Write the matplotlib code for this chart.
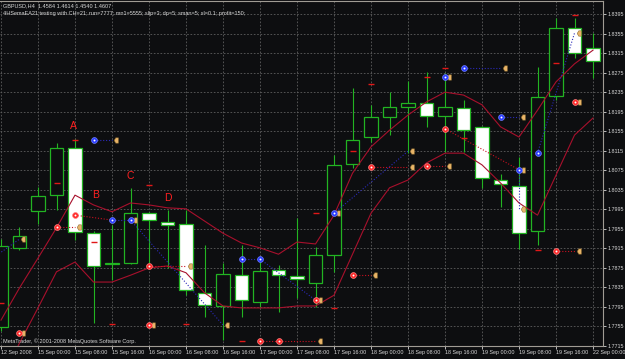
import numpy as np
import matplotlib
matplotlib.use("Agg")
import matplotlib.pyplot as plt
from matplotlib.patches import Rectangle
from matplotlib.path import Path

# GBPUSD H4 bars, 12 Sep 2008 16:00 .. 22 Sep 00:00
opens = [1.7754, 1.7916, 1.7992, 1.8024, 1.8121, 1.7946, 1.7883, 1.7885, 1.7987, 1.7969,
         1.7965, 1.7824, 1.7797, 1.7860, 1.7805, 1.7871, 1.7858, 1.7844, 1.7901, 1.8088,
         1.8143, 1.8184, 1.8205, 1.8213, 1.8186, 1.8202, 1.8164, 1.8055, 1.8043, 1.7951,
         1.8227, 1.8366, 1.8325]
highs = [1.7935, 1.7959, 1.8041, 1.8131, 1.8139, 1.7950, 1.7963, 1.8039, 1.7990, 1.7994,
         1.7994, 1.7922, 1.7885, 1.7922, 1.7887, 1.7880, 1.7977, 1.7918, 1.8106, 1.8243,
         1.8209, 1.8235, 1.8258, 1.8276, 1.8275, 1.8219, 1.8166, 1.8067, 1.8102, 1.8286,
         1.8387, 1.8387, 1.8356]
lows = [1.7745, 1.7912, 1.7965, 1.7994, 1.7932, 1.7762, 1.7850, 1.7883, 1.7885, 1.7875,
        1.7820, 1.7774, 1.7727, 1.7774, 1.7795, 1.7785, 1.7813, 1.7795, 1.7867, 1.8080,
        1.8133, 1.8147, 1.8110, 1.8164, 1.8112, 1.8112, 1.8039, 1.8000, 1.7914, 1.7922,
        1.8219, 1.8305, 1.8264]
closes = [1.7920, 1.7940, 1.8022, 1.8121, 1.7949, 1.7879, 1.7885, 1.7987, 1.7973, 1.7963,
          1.7830, 1.7799, 1.7862, 1.7809, 1.7869, 1.7860, 1.7852, 1.7901, 1.8086, 1.8137,
          1.8184, 1.8205, 1.8213, 1.8186, 1.8205, 1.8157, 1.8059, 1.8047, 1.7946, 1.8225,
          1.8366, 1.8315, 1.8299]

# channel lines
upper = [1.7768, 1.7834, 1.7895, 1.7957, 1.8024, 1.8004, 1.7990, 1.8008, 1.8004, 1.7998,
         1.7996, 1.7971, 1.7946, 1.7926, 1.7916, 1.7903, 1.7928, 1.7924, 1.7983, 1.8069,
         1.8123, 1.8157, 1.8188, 1.8215, 1.8235, 1.8229, 1.8209, 1.8164, 1.8143, 1.8198,
         1.8256, 1.8293, 1.8321]
lower = [1.7645, 1.7721, 1.7793, 1.7867, 1.7887, 1.7846, 1.7846, 1.7860, 1.7875, 1.7879,
         1.7865, 1.7824, 1.7797, 1.7793, 1.7793, 1.7793, 1.7797, 1.7797, 1.7819, 1.7903,
         1.7987, 1.8039, 1.8055, 1.8090, 1.8110, 1.8110, 1.8086, 1.8049, 1.8008, 1.7983,
         1.8065, 1.8147, 1.8182]

# trade arrows (bar index, price)
buy_x = [5, 6, 7, 13, 14, 18, 24, 25, 27, 28, 29]
buy_y = [1.8137, 1.7973, 1.7973, 1.7893, 1.7893, 1.7987, 1.8266, 1.8284, 1.8184, 1.8076, 1.8110]
sell_x = [1, 3, 4, 8, 8, 14, 15, 17, 19, 20, 23, 24, 30, 31]
sell_y = [1.7742, 1.7959, 1.7983, 1.7758, 1.7879, 1.7725, 1.7725, 1.7809, 1.7860, 1.8082,
          1.8084, 1.8160, 1.7910, 1.8215]
close_x = [1, 1, 4, 6, 7, 8, 10, 12, 17, 17, 18, 20, 22, 22, 24, 24, 27, 28, 28, 28, 31, 31, 31]
close_y = [1.7934, 1.7742, 1.7959, 1.8137, 1.7973, 1.7758, 1.7879, 1.7758, 1.7725, 1.7809,
           1.7987, 1.7860, 1.8114, 1.8082, 1.8084, 1.8266, 1.8284, 1.8184, 1.7996, 1.8076,
           1.7910, 1.8356, 1.8215]

# trade lines: (x0, y0, x1, y1)
buy_lines = [(-1, 1.7880, 1, 1.7934), (5, 1.8137, 6, 1.8137), (6, 1.7973, 7, 1.7973),
             (7, 1.7973, 12, 1.7758), (13, 1.7893, 14, 1.7893), (14, 1.7893, 17, 1.7809),
             (18, 1.7987, 22, 1.8114), (25, 1.8284, 27, 1.8284), (27, 1.8184, 28, 1.8184),
             (28, 1.8076, 28, 1.7996), (29, 1.8110, 31, 1.8356)]
sell_lines = [(3, 1.7959, 4, 1.7959), (4, 1.7983, 6, 1.7973), (8, 1.7879, 10, 1.7879),
              (14, 1.7725, 15, 1.7725), (15, 1.7725, 17, 1.7725), (19, 1.7860, 20, 1.7860),
              (20, 1.8082, 22, 1.8082), (23, 1.8084, 24, 1.8084), (24, 1.8160, 28, 1.8076),
              (30, 1.7910, 31, 1.7910)]

# small red level marks
dash_x = [0, 3, 4, 5, 6, 8, 10, 13, 17, 18, 19, 20, 23, 24, 25, 29, 30, 31]
dash_y = [1.7803, 1.8049, 1.8137, 1.7928, 1.7760, 1.8045, 1.7760, 1.7725, 1.7987, 1.7793,
          1.8114, 1.8252, 1.8266, 1.8284, 1.8141, 1.7912, 1.8295, 1.8393]

letters = ["A", "B", "C", "D"]
letter_x = [3.9, 5.1, 7.0, 9.0]
letter_y = [1.8166, 1.8024, 1.8063, 1.8018]

tick_pos = [0, 2, 4, 6, 8, 10, 12, 14, 16, 18, 20, 22, 24, 26, 28, 30, 32]
tick_labels = ["12 Sep 2008", "15 Sep 00:00", "15 Sep 08:00", "15 Sep 16:00", "16 Sep 00:00",
               "16 Sep 08:00", "16 Sep 16:00", "17 Sep 00:00", "17 Sep 08:00", "17 Sep 16:00",
               "18 Sep 00:00", "18 Sep 08:00", "18 Sep 16:00", "19 Sep 00:00", "19 Sep 08:00",
               "19 Sep 16:00", "22 Sep 00:00"]
price_ticks = [1.7715, 1.7755, 1.7795, 1.7835, 1.7875, 1.7915, 1.7955, 1.7995, 1.8035,
               1.8075, 1.8115, 1.8155, 1.8195, 1.8235, 1.8275, 1.8315, 1.8355, 1.8395]

BG = "#0d0e10"
GREEN = "#22b422"
LINE_RED = "#a8102c"
GRID = "#5e5e5e"
TXT = "#d8d8d8"
FONT = ["Liberation Sans", "DejaVu Sans"]

plt.rcParams["font.family"] = FONT

fig = plt.figure(figsize=(6.25, 3.59), dpi=100, facecolor=BG)
ax = fig.add_axes([0, 13 / 359, 603 / 625, 345 / 359], facecolor=BG)
ax.set_xlim(-0.054, 32.54)
ax.set_ylim(1.7715, 1.7715 + 345 / 4882)

# grid
ax.set_xticks(tick_pos)
ax.set_xticklabels(tick_labels)
ax.set_yticks(price_ticks)
ax.set_yticklabels(["%.4f" % p for p in price_ticks])
ax.grid(True, color=GRID, linestyle=(0, (2, 2)), linewidth=0.6, zorder=0)
ax.set_axisbelow(True)
ax.yaxis.tick_right()
ax.tick_params(axis="both", colors=TXT, labelsize=3.9, length=2, width=0.6, pad=1)
for lbl in ax.get_xticklabels():
    lbl.set_horizontalalignment("left")
for side in ["top", "right", "bottom"]:
    ax.spines[side].set_color("#a09c94")
    ax.spines[side].set_linewidth(0.8)
ax.spines["left"].set_visible(False)

# candles
for i in range(len(opens)):
    o, h, l, c = opens[i], highs[i], lows[i], closes[i]
    ax.vlines(i, l, h, color=GREEN, linewidth=0.8, zorder=2)
    lo = min(o, c)
    hgt = max(abs(c - o), 0.0003)
    face = BG if c > o else "white"
    ax.add_patch(Rectangle((i - 0.36, lo), 0.72, hgt, facecolor=face,
                           edgecolor=GREEN, linewidth=0.9, zorder=2.5))

x = np.arange(len(upper))
ax.plot(x, upper, color=LINE_RED, linewidth=0.8, zorder=3)
ax.plot(x, lower, color=LINE_RED, linewidth=0.8, zorder=3)

# trade lines
for x0, y0, x1, y1 in buy_lines:
    ax.plot([x0, x1], [y0, y1], color="#2a2ab8", linestyle=(0, (1, 1.6)), linewidth=0.8, zorder=4)
for x0, y0, x1, y1 in sell_lines:
    ax.plot([x0, x1], [y0, y1], color="#c81020", linestyle=(0, (1, 1.6)), linewidth=0.8, zorder=4)

# close markers: small tab sitting right of the point
tab = Path([(0.30, 0), (0.55, -0.45), (1.0, -0.45), (1.0, 0.45), (0.55, 0.45), (0.30, 0)])
ax.plot(close_x, close_y, linestyle="none", marker=tab, markersize=8.5,
        markerfacecolor="#e8b468", markeredgecolor="#8a6a30", markeredgewidth=0.4, zorder=5)

ax.plot(buy_x, buy_y, linestyle="none", marker="o", markersize=4.2,
        markerfacecolor="#2a3cff", markeredgecolor="#7080ff", markeredgewidth=0.5, zorder=6)
ax.plot(sell_x, sell_y, linestyle="none", marker="o", markersize=4.2,
        markerfacecolor="#ff2a2a", markeredgecolor="#ff8080", markeredgewidth=0.5, zorder=6)
ax.plot(buy_x + sell_x, buy_y + sell_y, linestyle="none", marker="o", markersize=1.4,
        markerfacecolor="white", markeredgewidth=0, zorder=7)

ax.plot(dash_x, dash_y, linestyle="none", marker="_", markersize=4, markeredgewidth=1,
        color="#e01818", zorder=5)

for t, lx, ly in zip(letters, letter_x, letter_y):
    ax.text(lx, ly, t, color="#ff2020", fontsize=7.5, ha="center", va="center", zorder=8)

# header / footer text
fig.text(3 / 625, 1 - 6 / 359, "GBPUSD,H4  1.4584 1.4614 1.4540 1.4607",
         color=TXT, fontsize=4, va="center", ha="left")
fig.text(3 / 625, 1 - 13 / 359,
         "4HSemaEA21 testing with CH=21; run=7777; mn1=5555; slip=3; dp=5; sman=5; sl=0.1; profit=150;",
         color=TXT, fontsize=4, va="center", ha="left")
fig.text(3 / 625, 1 - 341 / 359, "MetaTrader, \u00a9 2001-2008 MetaQuotes Software Corp.",
         color=TXT, fontsize=4, va="center", ha="left")

fig.savefig("out.png", dpi=100, facecolor=BG)
